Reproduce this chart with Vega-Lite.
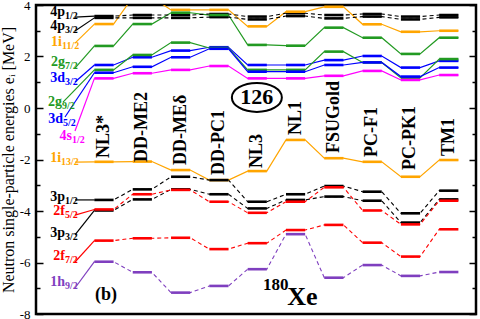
{
  "$schema": "https://vega.github.io/schema/vega-lite/v6.json",
  "width": 440,
  "height": 309,
  "autosize": {"type": "none"},
  "padding": {"left": 36, "top": 5, "right": 4, "bottom": 5},
  "background": "white",
  "config": {"view": {"stroke": "black", "strokeWidth": 2.5}, "font": "Liberation Serif"},
  "datasets": {
    "lv": [
      {"level": "4p1/2", "m": 0, "ax": 0.243, "E": 3.53},
      {"level": "4p1/2", "m": 1, "E": 3.57}, {"level": "4p1/2", "m": 2, "E": 3.61}, {"level": "4p1/2", "m": 3, "E": 3.61}, {"level": "4p1/2", "m": 4, "E": 3.65}, {"level": "4p1/2", "m": 5, "E": 3.55},
      {"level": "4p1/2", "m": 6, "E": 3.68}, {"level": "4p1/2", "m": 7, "E": 3.61}, {"level": "4p1/2", "m": 8, "E": 3.65}, {"level": "4p1/2", "m": 9, "E": 3.55}, {"level": "4p1/2", "m": 10, "E": 3.61},
      {"level": "4p3/2", "m": 0, "ax": 0.243, "E": 2.99},
      {"level": "4p3/2", "m": 1, "E": 3.50}, {"level": "4p3/2", "m": 2, "E": 3.50}, {"level": "4p3/2", "m": 3, "E": 3.50}, {"level": "4p3/2", "m": 4, "E": 3.53}, {"level": "4p3/2", "m": 5, "E": 3.44},
      {"level": "4p3/2", "m": 6, "E": 3.57}, {"level": "4p3/2", "m": 7, "E": 3.48}, {"level": "4p3/2", "m": 8, "E": 3.55}, {"level": "4p3/2", "m": 9, "E": 3.44}, {"level": "4p3/2", "m": 10, "E": 3.52},
      {"level": "1i11/2", "m": 0, "ax": 0.243, "E": 2.52},
      {"level": "1i11/2", "m": 1, "E": 3.26}, {"level": "1i11/2", "m": 2, "E": 4.30}, {"level": "1i11/2", "m": 3, "E": 3.81}, {"level": "1i11/2", "m": 4, "E": 3.81}, {"level": "1i11/2", "m": 5, "E": 3.17},
      {"level": "1i11/2", "m": 6, "E": 3.74}, {"level": "1i11/2", "m": 7, "E": 3.93}, {"level": "1i11/2", "m": 8, "E": 3.25}, {"level": "1i11/2", "m": 9, "E": 2.96}, {"level": "1i11/2", "m": 10, "E": 3.00},
      {"level": "2g7/2", "m": 0, "ax": 0.243, "E": 1.55},
      {"level": "2g7/2", "m": 1, "E": 2.41}, {"level": "2g7/2", "m": 2, "E": 3.26}, {"level": "2g7/2", "m": 3, "E": 3.70}, {"level": "2g7/2", "m": 4, "E": 3.61}, {"level": "2g7/2", "m": 5, "E": 2.45},
      {"level": "2g7/2", "m": 6, "E": 2.42}, {"level": "2g7/2", "m": 7, "E": 3.12}, {"level": "2g7/2", "m": 8, "E": 2.73}, {"level": "2g7/2", "m": 9, "E": 2.10}, {"level": "2g7/2", "m": 10, "E": 2.73},
      {"level": "3d3/2", "m": 0, "ax": 0.243, "E": 1.01},
      {"level": "3d3/2", "m": 1, "E": 1.67}, {"level": "3d3/2", "m": 2, "E": 1.97}, {"level": "3d3/2", "m": 3, "E": 2.23}, {"level": "3d3/2", "m": 4, "E": 2.36}, {"level": "3d3/2", "m": 5, "E": 1.67},
      {"level": "3d3/2", "m": 6, "E": 1.67}, {"level": "3d3/2", "m": 7, "E": 1.86}, {"level": "3d3/2", "m": 8, "E": 2.02}, {"level": "3d3/2", "m": 9, "E": 1.57}, {"level": "3d3/2", "m": 10, "E": 1.83},
      {"level": "2g9/2", "m": 0, "ax": -0.07, "E": 0.23},
      {"level": "2g9/2", "m": 1, "E": 1.48}, {"level": "2g9/2", "m": 2, "E": 2.06}, {"level": "2g9/2", "m": 3, "E": 2.54}, {"level": "2g9/2", "m": 4, "E": 2.33}, {"level": "2g9/2", "m": 5, "E": 1.48},
      {"level": "2g9/2", "m": 6, "E": 1.48}, {"level": "2g9/2", "m": 7, "E": 2.19}, {"level": "2g9/2", "m": 8, "E": 1.77}, {"level": "2g9/2", "m": 9, "E": 1.17}, {"level": "2g9/2", "m": 10, "E": 1.90},
      {"level": "3d5/2", "m": 0, "ax": -0.018, "E": -0.35},
      {"level": "3d5/2", "m": 1, "E": 1.37}, {"level": "3d5/2", "m": 2, "E": 1.60}, {"level": "3d5/2", "m": 3, "E": 1.97}, {"level": "3d5/2", "m": 4, "E": 2.30}, {"level": "3d5/2", "m": 5, "E": 1.41},
      {"level": "3d5/2", "m": 6, "E": 1.41}, {"level": "3d5/2", "m": 7, "E": 1.67}, {"level": "3d5/2", "m": 8, "E": 1.77}, {"level": "3d5/2", "m": 9, "E": 1.22}, {"level": "3d5/2", "m": 10, "E": 1.57},
      {"level": "4s1/2", "m": 0, "ax": 0.243, "E": -0.89},
      {"level": "4s1/2", "m": 1, "E": 1.15}, {"level": "4s1/2", "m": 2, "E": 1.35}, {"level": "4s1/2", "m": 3, "E": 1.48}, {"level": "4s1/2", "m": 4, "E": 1.63}, {"level": "4s1/2", "m": 5, "E": 1.15},
      {"level": "4s1/2", "m": 6, "E": 1.15}, {"level": "4s1/2", "m": 7, "E": 1.25}, {"level": "4s1/2", "m": 8, "E": 1.44}, {"level": "4s1/2", "m": 9, "E": 1.09}, {"level": "4s1/2", "m": 10, "E": 1.28},
      {"level": "1i13/2", "m": 0, "ax": 0.243, "E": -2.10},
      {"level": "1i13/2", "m": 1, "E": -2.09}, {"level": "1i13/2", "m": 2, "E": -2.08}, {"level": "1i13/2", "m": 3, "E": -2.41}, {"level": "1i13/2", "m": 4, "E": -2.80}, {"level": "1i13/2", "m": 5, "E": -2.45},
      {"level": "1i13/2", "m": 6, "E": -1.24}, {"level": "1i13/2", "m": 7, "E": -1.95}, {"level": "1i13/2", "m": 8, "E": -2.09}, {"level": "1i13/2", "m": 9, "E": -2.67}, {"level": "1i13/2", "m": 10, "E": -2.02},
      {"level": "3p1/2", "m": 0, "ax": 0.243, "E": -3.57},
      {"level": "3p1/2", "m": 1, "E": -3.57}, {"level": "3p1/2", "m": 2, "E": -3.16}, {"level": "3p1/2", "m": 3, "E": -2.67}, {"level": "3p1/2", "m": 4, "E": -2.80}, {"level": "3p1/2", "m": 5, "E": -3.64},
      {"level": "3p1/2", "m": 6, "E": -3.35}, {"level": "3p1/2", "m": 7, "E": -3.03}, {"level": "3p1/2", "m": 8, "E": -3.25}, {"level": "3p1/2", "m": 9, "E": -4.09}, {"level": "3p1/2", "m": 10, "E": -3.21},
      {"level": "3p3/2", "m": 0, "ax": 0.243, "E": -4.93},
      {"level": "3p3/2", "m": 1, "E": -3.98}, {"level": "3p3/2", "m": 2, "E": -3.55}, {"level": "3p3/2", "m": 3, "E": -3.16}, {"level": "3p3/2", "m": 4, "E": -3.35}, {"level": "3p3/2", "m": 5, "E": -3.90},
      {"level": "3p3/2", "m": 6, "E": -3.57}, {"level": "3p3/2", "m": 7, "E": -3.44}, {"level": "3p3/2", "m": 8, "E": -3.60}, {"level": "3p3/2", "m": 9, "E": -4.45}, {"level": "3p3/2", "m": 10, "E": -3.55},
      {"level": "2f5/2", "m": 0, "ax": 0.243, "E": -4.16},
      {"level": "2f5/2", "m": 1, "E": -3.94}, {"level": "2f5/2", "m": 2, "E": -3.35}, {"level": "2f5/2", "m": 3, "E": -3.18}, {"level": "2f5/2", "m": 4, "E": -3.64}, {"level": "2f5/2", "m": 5, "E": -4.07},
      {"level": "2f5/2", "m": 6, "E": -3.64}, {"level": "2f5/2", "m": 7, "E": -3.08}, {"level": "2f5/2", "m": 8, "E": -3.98}, {"level": "2f5/2", "m": 9, "E": -4.52}, {"level": "2f5/2", "m": 10, "E": -3.60},
      {"level": "2f7/2", "m": 0, "ax": 0.243, "E": -5.98},
      {"level": "2f7/2", "m": 1, "E": -5.15}, {"level": "2f7/2", "m": 2, "E": -5.06}, {"level": "2f7/2", "m": 3, "E": -5.04}, {"level": "2f7/2", "m": 4, "E": -5.48}, {"level": "2f7/2", "m": 5, "E": -5.25},
      {"level": "2f7/2", "m": 6, "E": -4.74}, {"level": "2f7/2", "m": 7, "E": -4.54}, {"level": "2f7/2", "m": 8, "E": -5.23}, {"level": "2f7/2", "m": 9, "E": -5.77}, {"level": "2f7/2", "m": 10, "E": -4.71},
      {"level": "1h9/2", "m": 0, "ax": 0.243, "E": -6.99},
      {"level": "1h9/2", "m": 1, "E": -5.97}, {"level": "1h9/2", "m": 2, "E": -6.38}, {"level": "1h9/2", "m": 3, "E": -7.17}, {"level": "1h9/2", "m": 4, "E": -6.91}, {"level": "1h9/2", "m": 5, "E": -6.26},
      {"level": "1h9/2", "m": 6, "E": -4.90}, {"level": "1h9/2", "m": 7, "E": -6.59}, {"level": "1h9/2", "m": 8, "E": -6.10}, {"level": "1h9/2", "m": 9, "E": -6.52}, {"level": "1h9/2", "m": 10, "E": -6.37}
    ],
    "lab": [
      {"level": "4p1/2", "main": "4p", "sub": "1/2", "x": -0.018, "E": 3.57},
      {"level": "4p3/2", "main": "4p", "sub": "3/2", "x": -0.018, "E": 3.03},
      {"level": "1i11/2", "main": "1i", "sub": "11/2", "x": -0.097, "E": 2.41},
      {"level": "2g7/2", "main": "2g", "sub": "7/2", "x": -0.018, "E": 1.64},
      {"level": "3d3/2", "main": "3d", "sub": "3/2", "x": -0.018, "E": 1.02},
      {"level": "2g9/2", "main": "2g", "sub": "9/2", "x": -0.097, "E": 0.08},
      {"level": "3d5/2", "main": "3d", "sub": "5/2", "x": -0.07, "E": -0.58},
      {"level": "4s1/2", "main": "4s", "sub": "1/2", "x": 0.164, "E": -1.24},
      {"level": "1i13/2", "main": "1i", "sub": "13/2", "x": -0.12, "E": -2.10},
      {"level": "3p1/2", "main": "3p", "sub": "1/2", "x": -0.018, "E": -3.61},
      {"level": "2f5/2", "main": "2f", "sub": "5/2", "x": -0.018, "E": -4.16},
      {"level": "3p3/2", "main": "3p", "sub": "3/2", "x": -0.018, "E": -5.0},
      {"level": "2f7/2", "main": "2f", "sub": "7/2", "x": -0.018, "E": -5.90},
      {"level": "1h9/2", "main": "1h", "sub": "9/2", "x": -0.018, "E": -6.91}
    ],
    "mod": [
      {"model": "NL3*", "m": 1, "E": -1.94},
      {"model": "DD-ME2", "m": 2, "E": -2.10},
      {"model": "DD-MEδ", "m": 3, "E": -2.21},
      {"model": "DD-PC1", "m": 4, "E": -2.60},
      {"model": "NL3", "m": 5, "E": -2.33},
      {"model": "NL1", "m": 6, "E": -1.05},
      {"model": "FSUGold", "m": 7, "E": -1.75},
      {"model": "PC-F1", "m": 8, "E": -1.90},
      {"model": "PC-PK1", "m": 9, "E": -2.41},
      {"model": "TM1", "m": 10, "E": -1.86}
    ]
  },
  "layer": [
    {
      "data": {"name": "lv"},
      "transform": [
        {"filter": "datum.m <= 1"},
        {"calculate": "datum.m == 0 ? datum.ax : datum.m - 0.25", "as": "xp"}
      ],
      "mark": {"type": "line", "strokeWidth": 1.2, "clip": true},
      "encoding": {
        "x": {"field": "xp", "type": "quantitative", "scale": {"domain": [-0.775, 10.71], "nice": false, "zero": false}, "axis": null},
        "y": {"field": "E", "type": "quantitative", "scale": {"domain": [-8, 4], "nice": false, "zero": false},
          "axis": {"orient": "right", "values": [-8, -7, -6, -5, -4, -3, -2, -1, 0, 1, 2, 3, 4], "labels": false, "title": null, "domain": false, "grid": false,
            "tickColor": "black", "tickWidth": 1.5,
            "tickSize": {"condition": {"test": "datum.value % 2 == 0", "value": -7}, "value": -4}}},
        "color": {"field": "level", "type": "nominal", "legend": null,
          "scale": {"domain": ["4p1/2", "4p3/2", "1i11/2", "2g7/2", "3d3/2", "2g9/2", "3d5/2", "4s1/2", "1i13/2", "3p1/2", "3p3/2", "2f5/2", "2f7/2", "1h9/2"],
            "range": ["#000000", "#000000", "#FFA500", "#229A22", "#0000FF", "#229A22", "#0000FF", "#FF00FF", "#FFA500", "#000000", "#000000", "#FF0000", "#FF0000", "#7F3FBF"]}},
        "detail": {"field": "level"},
        "order": {"field": "xp", "type": "quantitative"}
      }
    },
    {
      "data": {"name": "lv"},
      "transform": [
        {"filter": "datum.m >= 1 && indexof(['4p1/2','4p3/2','3p1/2','3p3/2','2f5/2','2f7/2','1h9/2'], datum.level) < 0"},
        {"calculate": "datum.m - 0.25", "as": "xl"},
        {"calculate": "datum.m + 0.25", "as": "xr"},
        {"fold": ["xl", "xr"], "as": ["end", "xp"]}
      ],
      "mark": {"type": "line", "strokeWidth": 1.2, "clip": true},
      "encoding": {
        "x": {"field": "xp", "type": "quantitative", "scale": {"domain": [-0.775, 10.71], "nice": false, "zero": false}, "axis": null},
        "y": {"field": "E", "type": "quantitative", "scale": {"domain": [-8, 4], "nice": false, "zero": false}, "axis": null},
        "color": {"field": "level", "type": "nominal", "legend": null},
        "detail": {"field": "level"},
        "order": {"field": "xp", "type": "quantitative"}
      }
    },
    {
      "data": {"name": "lv"},
      "transform": [
        {"filter": "datum.m >= 1 && indexof(['4p1/2','4p3/2','3p1/2','3p3/2','2f5/2','2f7/2','1h9/2'], datum.level) >= 0"},
        {"calculate": "datum.m - 0.25", "as": "xl"},
        {"calculate": "datum.m + 0.25", "as": "xr"},
        {"fold": ["xl", "xr"], "as": ["end", "xp"]}
      ],
      "mark": {"type": "line", "strokeWidth": 1.1, "strokeDash": [4, 3], "clip": true},
      "encoding": {
        "x": {"field": "xp", "type": "quantitative", "scale": {"domain": [-0.775, 10.71], "nice": false, "zero": false}, "axis": null},
        "y": {"field": "E", "type": "quantitative", "scale": {"domain": [-8, 4], "nice": false, "zero": false}, "axis": null},
        "color": {"field": "level", "type": "nominal", "legend": null},
        "detail": {"field": "level"},
        "order": {"field": "xp", "type": "quantitative"}
      }
    },
    {
      "data": {"name": "lv"},
      "transform": [
        {"filter": "datum.m >= 1"},
        {"calculate": "datum.m - 0.25", "as": "xl"},
        {"calculate": "datum.m + 0.25", "as": "xr"}
      ],
      "mark": {"type": "rule", "strokeWidth": 2.6, "clip": true},
      "encoding": {
        "x": {"field": "xl", "type": "quantitative", "scale": {"domain": [-0.775, 10.71], "nice": false, "zero": false}, "axis": null},
        "x2": {"field": "xr"},
        "y": {"field": "E", "type": "quantitative", "scale": {"domain": [-8, 4], "nice": false, "zero": false},
          "axis": {"orient": "left", "values": [-8, -7, -6, -5, -4, -3, -2, -1, 0, 1, 2, 3, 4],
            "labelExpr": "datum.value % 2 == 0 ? '' + datum.value : ''",
            "tickSize": {"condition": {"test": "datum.value % 2 == 0", "value": -7}, "value": -4},
            "tickWidth": 1.5, "tickColor": "black", "domain": false, "grid": false,
            "labelFont": "Liberation Serif", "labelFontSize": 13, "labelColor": "black", "labelPadding": 13,
            "title": "Neutron single-particle energies  eᵢ [MeV]", "titleFont": "Liberation Serif", "titleFontSize": 16,
            "titleFontWeight": "normal", "titleColor": "black", "titlePadding": 3}},
        "color": {"field": "level", "type": "nominal", "legend": null}
      }
    },
    {
      "data": {"name": "lab"},
      "mark": {"type": "text", "align": "right", "baseline": "alphabetic", "font": "Liberation Serif", "fontSize": 14, "fontWeight": "bold"},
      "encoding": {
        "x": {"field": "x", "type": "quantitative", "scale": {"domain": [-0.775, 10.71], "nice": false, "zero": false}, "axis": null},
        "y": {"field": "E", "type": "quantitative", "scale": {"domain": [-8, 4], "nice": false, "zero": false}, "axis": null},
        "color": {"field": "level", "type": "nominal", "legend": null},
        "text": {"field": "main"}
      }
    },
    {
      "data": {"name": "lab"},
      "mark": {"type": "text", "align": "left", "baseline": "alphabetic", "dy": 3, "font": "Liberation Serif", "fontSize": 10, "fontWeight": "bold"},
      "encoding": {
        "x": {"field": "x", "type": "quantitative", "scale": {"domain": [-0.775, 10.71], "nice": false, "zero": false}, "axis": null},
        "y": {"field": "E", "type": "quantitative", "scale": {"domain": [-8, 4], "nice": false, "zero": false}, "axis": null},
        "color": {"field": "level", "type": "nominal", "legend": null},
        "text": {"field": "sub"}
      }
    },
    {
      "data": {"name": "mod"},
      "mark": {"type": "text", "angle": 270, "align": "left", "baseline": "middle", "font": "Liberation Serif", "fontSize": 18, "fontWeight": "bold", "color": "black"},
      "encoding": {
        "x": {"field": "m", "type": "quantitative", "scale": {"domain": [-0.775, 10.71], "nice": false, "zero": false}, "axis": null},
        "y": {"field": "E", "type": "quantitative", "scale": {"domain": [-8, 4], "nice": false, "zero": false}, "axis": null},
        "text": {"field": "model"}
      }
    },
    {
      "data": {"values": [{"x": 4.99, "E": 0.41}]},
      "mark": {"type": "point", "filled": false, "stroke": "black", "strokeWidth": 2, "opacity": 1,
        "shape": "M -1 0 C -1 -0.32 -0.552 -0.58 0 -0.58 C 0.552 -0.58 1 -0.32 1 0 C 1 0.32 0.552 0.58 0 0.58 C -0.552 0.58 -1 0.32 -1 0 Z",
        "size": 2500},
      "encoding": {
        "x": {"field": "x", "type": "quantitative", "scale": {"domain": [-0.775, 10.71], "nice": false, "zero": false}, "axis": null},
        "y": {"field": "E", "type": "quantitative", "scale": {"domain": [-8, 4], "nice": false, "zero": false}, "axis": null}
      }
    },
    {
      "data": {"values": [{"t": "126", "x": 4.99, "E": 0.41}]},
      "mark": {"type": "text", "align": "center", "baseline": "middle", "font": "Liberation Serif", "fontSize": 22, "fontWeight": "bold", "color": "black"},
      "encoding": {
        "x": {"field": "x", "type": "quantitative", "scale": {"domain": [-0.775, 10.71], "nice": false, "zero": false}, "axis": null},
        "y": {"field": "E", "type": "quantitative", "scale": {"domain": [-8, 4], "nice": false, "zero": false}, "axis": null},
        "text": {"field": "t"}
      }
    },
    {
      "data": {"values": [{"t": "(b)", "x": 1.05, "E": -7.26}]},
      "mark": {"type": "text", "align": "center", "baseline": "middle", "font": "Liberation Serif", "fontSize": 18, "fontWeight": "bold", "color": "black"},
      "encoding": {
        "x": {"field": "x", "type": "quantitative", "scale": {"domain": [-0.775, 10.71], "nice": false, "zero": false}, "axis": null},
        "y": {"field": "E", "type": "quantitative", "scale": {"domain": [-8, 4], "nice": false, "zero": false}, "axis": null},
        "text": {"field": "t"}
      }
    },
    {
      "data": {"values": [{"t": "180", "x": 5.15, "E": -7.07}]},
      "mark": {"type": "text", "align": "left", "baseline": "alphabetic", "font": "Liberation Serif", "fontSize": 17, "fontWeight": "bold", "color": "black"},
      "encoding": {
        "x": {"field": "x", "type": "quantitative", "scale": {"domain": [-0.775, 10.71], "nice": false, "zero": false}, "axis": null},
        "y": {"field": "E", "type": "quantitative", "scale": {"domain": [-8, 4], "nice": false, "zero": false}, "axis": null},
        "text": {"field": "t"}
      }
    },
    {
      "data": {"values": [{"t": "Xe", "x": 5.78, "E": -7.65}]},
      "mark": {"type": "text", "align": "left", "baseline": "alphabetic", "font": "Liberation Serif", "fontSize": 26, "fontWeight": "bold", "color": "black"},
      "encoding": {
        "x": {"field": "x", "type": "quantitative", "scale": {"domain": [-0.775, 10.71], "nice": false, "zero": false}, "axis": null},
        "y": {"field": "E", "type": "quantitative", "scale": {"domain": [-8, 4], "nice": false, "zero": false}, "axis": null},
        "text": {"field": "t"}
      }
    }
  ],
  "resolve": {"axis": {"y": "independent"}}
}
